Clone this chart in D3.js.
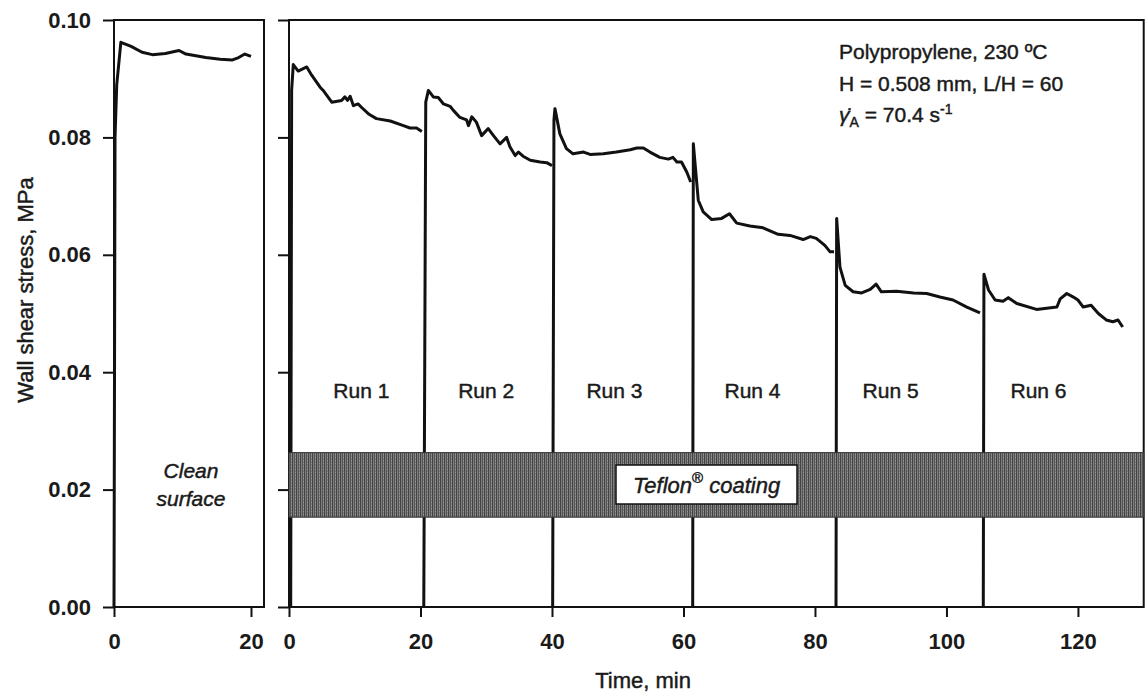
<!DOCTYPE html>
<html>
<head>
<meta charset="utf-8">
<script src="https://cdn.jsdelivr.net/npm/d3@7/dist/d3.min.js"></script>
<style>
  body { margin: 0; background: #fff; }
  svg { font-family: "Liberation Sans", Arial, sans-serif; }
  .heavy { stroke: #1a1a1a; stroke-width: 0.45px; }
</style>
</head>
<body>
<svg id="chart" width="1146" height="693"></svg>
<script>
// clean surface run, [time min, stress MPa]
const cleanRun = [[0, 0], [0.15, 0.08], [0.4, 0.089], [1.0, 0.0962], [2.5, 0.0955], [4.1, 0.0945],
  [5.6, 0.0941], [7.5, 0.0943], [9.5, 0.0948], [10.5, 0.0942], [13.4, 0.0936], [15.5, 0.0933],
  [17.3, 0.0932], [18.2, 0.0936], [19.1, 0.0942], [20.0, 0.0938]];

// Teflon coated runs
const run1 = [[0.26, 0], [0.4, 0.088], [0.65, 0.0924], [1.4, 0.0913], [2.7, 0.092], [3.45, 0.0906],
  [4.7, 0.0886], [5.2, 0.088], [6.5, 0.086], [8.0, 0.0863], [8.5, 0.0869], [8.9, 0.0863],
  [9.3, 0.087], [9.8, 0.0854], [10.5, 0.0857], [11.05, 0.0851], [12.1, 0.084], [13.3, 0.0832],
  [15.4, 0.0828], [17.4, 0.082], [18.4, 0.0816], [19.4, 0.0816], [20.2, 0.081]];
const run2 = [[20.5, 0], [20.8, 0.086], [21.2, 0.088], [21.95, 0.0869], [22.7, 0.0868], [23.5, 0.0857],
  [24.5, 0.0853], [25.0, 0.0846], [26.0, 0.0834], [27.0, 0.083], [27.3, 0.082], [27.8, 0.0835],
  [28.5, 0.0826], [29.3, 0.0803], [30.3, 0.0815], [31.1, 0.0803], [32.1, 0.0789], [33.1, 0.08],
  [33.6, 0.0784], [34.4, 0.0769], [34.9, 0.0775], [35.6, 0.0768], [36.7, 0.0761], [38.2, 0.0758],
  [39.2, 0.0757], [40.0, 0.0752]];
const run3 = [[40.1, 0], [40.3, 0.083], [40.45, 0.0849], [41.2, 0.0806], [42.2, 0.0781], [43.2, 0.0772],
  [44.8, 0.0775], [45.8, 0.0771], [47.8, 0.0772], [49.8, 0.0775], [51.9, 0.0779], [52.9, 0.0782],
  [53.9, 0.0782], [54.9, 0.0775], [56.4, 0.0766], [57.7, 0.0763], [58.4, 0.0766], [59.0, 0.0758],
  [59.7, 0.0758], [60.5, 0.0741], [61.1, 0.0724]];
const run4 = [[61.4, 0], [61.5, 0.0789], [62.25, 0.0693], [63.0, 0.0673], [64.3, 0.066], [65.8, 0.0662],
  [67.0, 0.067], [68.1, 0.0654], [70.1, 0.0649], [72.1, 0.0646], [74.4, 0.0635], [76.2, 0.0633],
  [78.2, 0.0626], [79.3, 0.0631], [80.2, 0.0628], [81.5, 0.0616], [82.3, 0.0605], [82.9, 0.0605]];
const run5 = [[83.2, 0], [83.3, 0.0662], [83.8, 0.0579], [84.6, 0.0548], [85.8, 0.0537], [87.1, 0.0535],
  [88.4, 0.0541], [89.3, 0.055], [90.1, 0.0537], [92.4, 0.0538], [95.0, 0.0535], [97.0, 0.0534],
  [99.0, 0.0528], [101.0, 0.0523], [103.1, 0.0511], [105.1, 0.0501]];
const run6 = [[105.6, 0], [105.7, 0.0567], [106.4, 0.054], [107.4, 0.0523], [108.6, 0.0521], [109.4, 0.0527],
  [110.7, 0.0517], [113.7, 0.0507], [116.8, 0.0511], [117.3, 0.0525], [118.3, 0.0534], [119.3, 0.0528],
  [120.0, 0.0523], [120.8, 0.0511], [122.0, 0.0514], [123.1, 0.05], [124.3, 0.0489], [125.3, 0.0486],
  [126.1, 0.0489], [126.8, 0.0477]];

const runs = [run1, run2, run3, run4, run5, run6];
const runLabels = ["Run 1", "Run 2", "Run 3", "Run 4", "Run 5", "Run 6"];
const runLabelTimes = [11, 30, 49.5, 70.5, 91.5, 114];

const yTicks = [0, 0.02, 0.04, 0.06, 0.08, 0.10];
const xTicksLeft = [0, 20];
const xTicksRight = [0, 20, 40, 60, 80, 100, 120];
const coatingBand = [0.0153, 0.0263];

const svg = d3.select("#chart");
const yTop = 20, yBottom = 607;

const y = d3.scaleLinear().domain([0, 0.10]).range([yBottom, yTop]);
const xL = d3.scaleLinear().domain([0, 21.9]).range([114, 264]);
const xR = d3.scaleLinear().domain([0, 130]).range([289, 1143.7]);

// texture for the coating band
const defs = svg.append("defs");
const pat = defs.append("pattern").attr("id", "tex")
  .attr("width", 4).attr("height", 3).attr("patternUnits", "userSpaceOnUse");
pat.append("rect").attr("width", 4).attr("height", 3).attr("fill", "#7c7c7c");
pat.append("rect").attr("x", 0).attr("width", 1).attr("height", 3).attr("fill", "#434343");
pat.append("rect").attr("x", 2).attr("width", 1).attr("height", 3).attr("fill", "#555");
pat.append("rect").attr("x", 3).attr("y", 1).attr("width", 1).attr("height", 1).attr("fill", "#9a9a9a");

function drawAxes(x, xTicks, withLabels) {
  const g = svg.append("g");
  const [x0, x1] = x.range();

  // y axis ticks
  g.append("g").attr("transform", `translate(${x0},0)`)
    .call(d3.axisLeft(y).tickValues(yTicks).tickSize(11).tickSizeOuter(0)
      .tickFormat(withLabels ? d3.format(".2f") : ""))
    .call(a => a.select(".domain").remove())
    .call(a => a.selectAll("line").attr("stroke", "#111").attr("stroke-width", 2))
    .call(a => a.selectAll("text").attr("x", -23).attr("font-size", 22).attr("font-weight", "bold")
      .attr("fill", "#1a1a1a"));

  // x axis ticks
  g.append("g").attr("transform", `translate(0,${yBottom})`)
    .call(d3.axisBottom(x).tickValues(xTicks).tickSize(10).tickSizeOuter(0))
    .call(a => a.select(".domain").remove())
    .call(a => a.selectAll("line").attr("stroke", "#111").attr("stroke-width", 2))
    .call(a => a.selectAll("text").attr("y", 26).attr("dy", "0.71em").attr("font-size", 22)
      .attr("font-weight", "bold").attr("fill", "#1a1a1a"));

  // frame
  g.append("rect").attr("x", x0).attr("y", yTop).attr("width", x1 - x0).attr("height", yBottom - yTop)
    .attr("fill", "none").attr("stroke", "#111").attr("stroke-width", 2);
}

const lineL = d3.line().x(d => xL(d[0])).y(d => y(d[1]));
const lineR = d3.line().x(d => xR(d[0])).y(d => y(d[1]));

drawAxes(xL, xTicksLeft, true);
drawAxes(xR, xTicksRight, false);

svg.append("path").datum(cleanRun).attr("d", lineL)
  .attr("fill", "none").attr("stroke", "#111").attr("stroke-width", 3).attr("stroke-linejoin", "round");

svg.selectAll(".run").data(runs).join("path").attr("class", "run")
  .attr("d", lineR).attr("fill", "none").attr("stroke", "#111")
  .attr("stroke-width", 3).attr("stroke-linejoin", "round");

// coating band over the run lines
svg.append("rect")
  .attr("x", xR(0)).attr("y", y(coatingBand[1]))
  .attr("width", xR.range()[1] - xR(0)).attr("height", y(coatingBand[0]) - y(coatingBand[1]))
  .attr("fill", "url(#tex)").attr("stroke", "#333").attr("stroke-width", 1);

const boxX = 616, boxW = 181;
svg.append("rect").attr("x", boxX).attr("y", 465).attr("width", boxW).attr("height", 39)
  .attr("fill", "#fff").attr("stroke", "#111").attr("stroke-width", 1.5);
const tef = svg.append("text").attr("class", "heavy").attr("x", boxX + boxW / 2).attr("y", 493)
  .attr("text-anchor", "middle").attr("font-size", 22).attr("font-style", "italic").attr("fill", "#1a1a1a");
tef.append("tspan").text("Teflon");
tef.append("tspan").attr("font-size", 15).attr("dy", -10).attr("font-style", "normal").text("®");
tef.append("tspan").attr("dy", 10).text(" coating");

// run labels
svg.selectAll(".runlab").data(runLabels).join("text").attr("class", "runlab heavy")
  .attr("x", (d, i) => xR(runLabelTimes[i])).attr("y", 398)
  .attr("text-anchor", "middle").attr("font-size", 21).attr("fill", "#1a1a1a").text(d => d);

// clean surface label
svg.append("text").attr("class", "heavy").attr("x", 191).attr("y", 478).attr("text-anchor", "middle")
  .attr("font-size", 21).attr("font-style", "italic").attr("fill", "#1a1a1a").text("Clean");
svg.append("text").attr("class", "heavy").attr("x", 191).attr("y", 506).attr("text-anchor", "middle")
  .attr("font-size", 21).attr("font-style", "italic").attr("fill", "#1a1a1a").text("surface");

// conditions
const note = svg.append("g").attr("class", "heavy").attr("font-size", 21).attr("fill", "#1a1a1a");
note.append("text").attr("x", 839).attr("y", 59).text("Polypropylene, 230 ºC");
note.append("text").attr("x", 839).attr("y", 91).text("H = 0.508 mm, L/H = 60");
const g3 = note.append("text").attr("x", 839).attr("y", 122);
g3.append("tspan").attr("font-style", "italic").text("γ̇");
g3.append("tspan").attr("font-size", 14).attr("dy", 5).text("A");
g3.append("tspan").attr("dy", -5).text(" = 70.4 s");
g3.append("tspan").attr("font-size", 14).attr("dy", -8).text("-1");

// axis titles
svg.append("text").attr("class", "heavy").attr("transform", "translate(33,290) rotate(-90)")
  .attr("text-anchor", "middle").attr("font-size", 22).attr("fill", "#1a1a1a")
  .text("Wall shear stress, MPa");
svg.append("text").attr("class", "heavy").attr("x", 643).attr("y", 688).attr("text-anchor", "middle")
  .attr("font-size", 22).attr("fill", "#1a1a1a").text("Time, min");
</script>
</body>
</html>
